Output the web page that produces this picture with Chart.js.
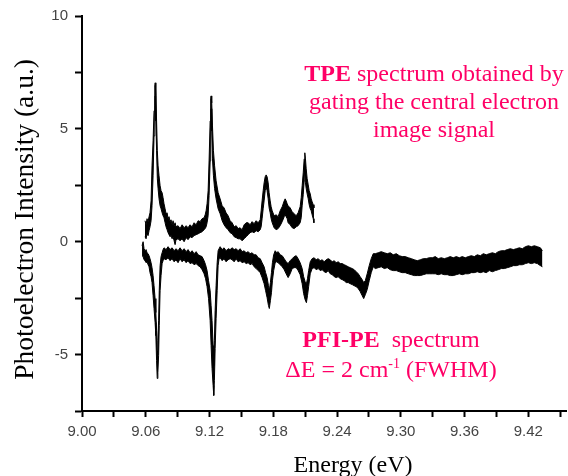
<!DOCTYPE html>
<html>
<head>
<meta charset="utf-8">
<script src="https://cdn.jsdelivr.net/npm/chart.js@4.4.0/dist/chart.umd.min.js"></script>
<style>
  html, body { margin: 0; padding: 0; background: #fff; }
  #wrap { position: relative; width: 568px; height: 476px; overflow: hidden; }
  canvas { position: absolute; left: 0; top: 0; }
  .note { position: absolute; font-family: "Liberation Serif", "Times New Roman", serif; font-size: 24px; color: #ff0066; text-align: center; white-space: nowrap; }
  .note sup { font-size: 14px; vertical-align: 9px; line-height: 0; }
</style>
</head>
<body>
<div id="wrap">
  <canvas id="c" width="568" height="476"></canvas>
  <div class="note" style="left:264px; top:59px; width:340px; line-height:28px;"><b>TPE</b> spectrum obtained by<br>gating the central electron<br>image signal</div>
  <div class="note" style="left:241px; top:324px; width:300px; line-height:30px;"><b>PFI-PE</b>&nbsp; spectrum<br>ΔE = 2 cm<sup>-1</sup> (FWHM)</div>
</div>
<script>
// ---- Data ----
const xTickLabels = ['9.00','9.06','9.12','9.18','9.24','9.30','9.36','9.42'];
const yTickLabels = ['-5','0','5','10'];
const xTitle = 'Energy (eV)';
const yTitle = 'Photoelectron Intensity (a.u.)';

// TPE spectrum: energy (eV) and upper / lower edges of the noisy trace
const tpeEnergy = [
9.0593,9.0603,9.0612,9.0622,9.0631,9.0640,9.0650,9.0659,9.0669,9.0678,
9.0685,9.0689,9.0695,9.0702,9.0709,9.0716,9.0725,9.0735,9.0744,9.0754,
9.0763,9.0772,9.0782,9.0791,9.0801,9.0810,9.0819,9.0829,9.0838,9.0848,
9.0857,9.0867,9.0876,9.0885,9.0904,9.0923,9.0942,9.0961,9.0980,9.0998,
9.1017,9.1036,9.1055,9.1074,9.1093,9.1111,9.1130,9.1149,9.1159,9.1168,
9.1177,9.1187,9.1196,9.1206,9.1211,9.1215,9.1221,9.1228,9.1237,9.1248,
9.1262,9.1281,9.1300,9.1319,9.1337,9.1356,9.1375,9.1394,9.1413,9.1432,
9.1451,9.1469,9.1488,9.1507,9.1526,9.1545,9.1564,9.1582,9.1601,9.1620,
9.1639,9.1658,9.1677,9.1686,9.1695,9.1705,9.1714,9.1724,9.1733,9.1742,
9.1752,9.1761,9.1771,9.1780,9.1790,9.1808,9.1827,9.1846,9.1865,9.1884,
9.1903,9.1912,9.1921,9.1931,9.1940,9.1959,9.1978,9.1997,9.2016,9.2034,
9.2053,9.2063,9.2072,9.2082,9.2091,9.2097,9.2103,9.2110,9.2119,9.2129,
9.2138,9.2148,9.2157,9.2166,9.2176,9.2183];
const tpeUpper = [
0.93,0.75,1.02,0.89,1.11,1.28,1.81,3.36,4.47,5.80,
6.90,7.04,6.46,5.35,4.03,3.36,2.92,2.48,2.26,2.17,
1.95,1.68,1.46,1.24,1.28,1.02,1.11,0.89,0.97,0.75,
0.93,0.71,0.84,0.66,0.71,0.58,0.75,0.62,0.71,0.62,
0.75,0.66,0.84,0.75,0.93,0.89,1.02,1.06,1.19,1.37,
1.68,2.26,3.58,5.35,6.33,6.46,6.15,5.13,4.03,3.36,
2.70,2.17,1.90,1.59,1.50,1.28,1.15,0.93,0.84,0.66,
0.71,0.58,0.62,0.53,0.75,0.84,0.84,0.75,0.89,0.80,
0.93,0.84,0.97,1.37,1.81,2.26,2.61,2.88,2.96,2.88,
2.61,2.17,1.81,1.55,1.37,1.15,1.19,1.11,1.37,1.55,
1.81,1.90,1.81,1.68,1.59,1.50,1.33,1.24,1.15,1.28,
1.55,1.95,2.48,3.05,3.67,3.94,3.67,3.23,2.79,2.52,
2.26,2.12,1.90,1.77,1.64,1.50];
const tpeLower = [
0.22,0.13,0.35,0.27,0.49,0.66,0.93,1.59,2.92,4.69,
6.02,6.46,5.35,4.03,2.79,2.35,1.90,1.59,1.46,1.28,
1.15,1.06,0.84,0.66,0.53,0.40,0.31,0.22,0.27,0.13,
0.22,0.04,-0.13,0.09,0.13,0.04,0.13,0.00,0.18,0.09,
0.22,0.18,0.27,0.31,0.35,0.40,0.44,0.53,0.58,0.66,
0.84,1.15,2.04,3.58,5.35,5.89,4.91,3.67,2.92,2.35,
1.90,1.46,1.24,0.93,0.75,0.62,0.53,0.40,0.35,0.22,
0.18,0.13,0.13,0.04,0.13,0.22,0.31,0.40,0.44,0.40,
0.49,0.44,0.53,0.66,1.02,1.46,1.81,2.26,2.43,2.26,
1.90,1.50,1.28,1.02,0.84,0.62,0.53,0.58,0.71,0.89,
1.11,1.19,1.11,1.02,0.84,0.75,0.62,0.58,0.66,0.71,
0.84,1.06,1.59,2.08,2.70,3.05,2.61,2.35,2.12,1.90,
1.64,1.46,1.37,1.19,1.02,0.84];

// PFI-PE spectrum: energy (eV) and upper / lower edges of the noisy trace
const pfiEnergy = [
9.0565,9.0575,9.0584,9.0593,9.0603,9.0612,9.0622,9.0631,9.0640,9.0650,
9.0659,9.0669,9.0678,9.0688,9.0695,9.0702,9.0708,9.0714,9.0721,9.0727,
9.0735,9.0744,9.0754,9.0763,9.0772,9.0791,9.0810,9.0829,9.0848,9.0867,
9.0885,9.0904,9.0923,9.0942,9.0961,9.0980,9.0998,9.1017,9.1036,9.1055,
9.1074,9.1093,9.1111,9.1130,9.1149,9.1163,9.1177,9.1191,9.1206,9.1215,
9.1224,9.1234,9.1240,9.1246,9.1253,9.1262,9.1272,9.1281,9.1290,9.1300,
9.1319,9.1337,9.1356,9.1375,9.1394,9.1413,9.1432,9.1451,9.1469,9.1488,
9.1507,9.1526,9.1545,9.1564,9.1582,9.1601,9.1620,9.1639,9.1658,9.1677,
9.1695,9.1714,9.1728,9.1742,9.1755,9.1763,9.1773,9.1783,9.1792,9.1804,
9.1818,9.1832,9.1846,9.1865,9.1884,9.1903,9.1921,9.1940,9.1959,9.1978,
9.1997,9.2016,9.2034,9.2053,9.2072,9.2086,9.2100,9.2112,9.2122,9.2133,
9.2148,9.2166,9.2185,9.2204,9.2223,9.2242,9.2261,9.2279,9.2298,9.2317,
9.2336,9.2355,9.2374,9.2392,9.2411,9.2430,9.2449,9.2468,9.2487,9.2505,
9.2524,9.2543,9.2562,9.2581,9.2600,9.2618,9.2637,9.2651,9.2666,9.2684,
9.2703,9.2722,9.2741,9.2760,9.2788,9.2816,9.2845,9.2873,9.2901,9.2929,
9.2958,9.2986,9.3014,9.3042,9.3071,9.3099,9.3127,9.3155,9.3184,9.3212,
9.3240,9.3268,9.3297,9.3325,9.3353,9.3381,9.3410,9.3438,9.3466,9.3494,
9.3523,9.3551,9.3579,9.3607,9.3636,9.3664,9.3692,9.3720,9.3749,9.3777,
9.3805,9.3833,9.3862,9.3890,9.3918,9.3946,9.3975,9.4003,9.4031,9.4060,
9.4088,9.4116,9.4144,9.4173,9.4201,9.4229,9.4257,9.4286,9.4314,9.4333];
const pfiUpper = [
-0.18,0.00,-0.31,-0.40,-0.35,-0.49,-0.53,-0.62,-0.75,-0.93,
-1.15,-1.50,-1.95,-2.52,-3.14,-3.94,-4.82,-4.38,-3.50,-2.17,
-1.06,-0.66,-0.49,-0.35,-0.27,-0.35,-0.22,-0.35,-0.27,-0.40,
-0.31,-0.40,-0.27,-0.40,-0.31,-0.44,-0.35,-0.49,-0.40,-0.53,
-0.44,-0.58,-0.62,-0.66,-0.84,-1.02,-1.28,-1.73,-2.17,-2.83,
-3.50,-4.60,-5.49,-4.38,-3.05,-1.95,-0.93,-0.40,-0.31,-0.22,
-0.35,-0.27,-0.40,-0.31,-0.35,-0.27,-0.35,-0.31,-0.40,-0.31,
-0.44,-0.40,-0.49,-0.44,-0.53,-0.49,-0.58,-0.58,-0.71,-0.75,
-0.93,-1.11,-1.37,-1.59,-1.95,-2.17,-1.81,-1.37,-0.93,-0.58,
-0.40,-0.49,-0.44,-0.58,-0.62,-0.75,-0.89,-0.97,-0.84,-0.75,
-0.66,-0.62,-0.75,-0.93,-1.19,-1.55,-1.77,-1.86,-1.64,-1.28,
-0.89,-0.75,-0.71,-0.80,-0.75,-0.84,-0.80,-0.89,-0.80,-0.75,
-0.80,-0.89,-0.84,-0.93,-0.89,-0.97,-0.97,-1.02,-1.06,-1.11,
-1.15,-1.19,-1.24,-1.33,-1.42,-1.55,-1.68,-1.81,-1.73,-1.42,
-1.06,-0.75,-0.53,-0.53,-0.49,-0.44,-0.49,-0.53,-0.49,-0.58,
-0.53,-0.62,-0.66,-0.66,-0.71,-0.75,-0.80,-0.84,-0.80,-0.75,
-0.75,-0.71,-0.71,-0.66,-0.75,-0.71,-0.75,-0.71,-0.66,-0.71,
-0.66,-0.71,-0.66,-0.71,-0.66,-0.62,-0.66,-0.58,-0.62,-0.53,
-0.58,-0.53,-0.49,-0.53,-0.44,-0.40,-0.40,-0.35,-0.31,-0.35,
-0.31,-0.27,-0.31,-0.22,-0.18,-0.22,-0.18,-0.22,-0.27,-0.40];
const pfiLower = [
-0.62,-0.66,-0.80,-0.84,-0.93,-0.89,-1.02,-1.11,-1.37,-1.55,
-1.81,-2.39,-2.96,-3.58,-4.16,-5.27,-6.06,-5.80,-5.04,-3.72,
-2.17,-1.50,-0.97,-0.84,-0.75,-0.80,-0.71,-0.84,-0.75,-0.89,
-0.80,-0.93,-0.75,-0.89,-0.80,-0.93,-0.84,-0.97,-0.93,-1.02,
-0.97,-1.06,-1.11,-1.24,-1.42,-1.64,-1.99,-2.52,-3.50,-4.60,
-5.62,-6.37,-6.81,-6.15,-4.73,-3.41,-2.17,-1.06,-0.75,-0.71,
-0.84,-0.75,-0.89,-0.80,-0.75,-0.80,-0.89,-0.75,-0.89,-0.84,
-0.93,-0.89,-0.97,-0.93,-1.02,-0.97,-1.11,-1.19,-1.28,-1.37,
-1.59,-1.86,-2.17,-2.48,-2.83,-2.96,-2.61,-2.26,-1.73,-1.28,
-0.93,-0.89,-0.93,-1.02,-1.11,-1.24,-1.42,-1.59,-1.42,-1.19,
-1.15,-1.15,-1.28,-1.46,-1.86,-2.30,-2.57,-2.70,-2.39,-1.99,
-1.42,-1.19,-1.15,-1.24,-1.19,-1.28,-1.24,-1.33,-1.37,-1.28,
-1.42,-1.46,-1.55,-1.59,-1.55,-1.64,-1.68,-1.73,-1.81,-1.81,
-1.86,-1.90,-1.95,-1.99,-2.08,-2.21,-2.39,-2.52,-2.35,-2.12,
-1.73,-1.37,-1.11,-1.19,-1.15,-1.11,-1.19,-1.15,-1.24,-1.28,
-1.28,-1.33,-1.37,-1.37,-1.42,-1.46,-1.50,-1.50,-1.50,-1.46,
-1.42,-1.42,-1.42,-1.42,-1.46,-1.42,-1.46,-1.46,-1.50,-1.50,
-1.46,-1.42,-1.46,-1.42,-1.42,-1.37,-1.37,-1.33,-1.37,-1.33,
-1.37,-1.28,-1.33,-1.28,-1.24,-1.19,-1.19,-1.15,-1.11,-1.06,
-1.06,-1.02,-1.02,-0.97,-0.93,-0.97,-0.93,-0.97,-1.06,-1.11];

// ---- Build datasets ----
function pts(xs, ys) { return xs.map((x, i) => ({ x: x, y: ys[i] })); }
const traceStyle = { borderColor: '#000', borderWidth: 1, pointRadius: 0, tension: 0, backgroundColor: '#000' };

// axis titles drawn as canvas text, placed like the reference
const axisTitlePlugin = {
  id: 'axisTitles',
  afterDraw(chart) {
    const ctx = chart.ctx, a = chart.chartArea;
    ctx.save();
    ctx.fillStyle = '#000';
    ctx.textAlign = 'center';
    ctx.textBaseline = 'alphabetic';
    ctx.font = '24px "Liberation Serif", "Times New Roman", serif';
    ctx.fillText(xTitle, a.left + (a.right - a.left) * 0.56, a.bottom + 61);
    ctx.translate(33, a.top + (a.bottom - a.top) * 0.515);
    ctx.rotate(-Math.PI / 2);
    ctx.font = '27.5px "Liberation Serif", "Times New Roman", serif';
    ctx.fillText(yTitle, 0, 0);
    ctx.restore();
  }
};

new Chart(document.getElementById('c'), {
  type: 'line',
  data: {
    datasets: [
      Object.assign({ label: 'TPE lower', data: pts(tpeEnergy, tpeLower), fill: false }, traceStyle),
      Object.assign({ label: 'TPE', data: pts(tpeEnergy, tpeUpper), fill: '-1' }, traceStyle),
      Object.assign({ label: 'PFI-PE lower', data: pts(pfiEnergy, pfiLower), fill: false }, traceStyle),
      Object.assign({ label: 'PFI-PE', data: pts(pfiEnergy, pfiUpper), fill: '-1' }, traceStyle)
    ]
  },
  options: {
    responsive: false,
    devicePixelRatio: 1,
    animation: false,
    layout: { padding: { left: 0, right: 2, top: 16, bottom: 0 } },
    plugins: { legend: { display: false }, tooltip: { enabled: false }, title: { display: false } },
    scales: {
      x: {
        type: 'linear',
        min: 9.0,
        max: 9.4555,
        border: { display: true, color: '#000', width: 2 },
        grid: { drawOnChartArea: false, drawTicks: true, tickLength: 6, color: '#000', tickWidth: 2 },
        ticks: {
          stepSize: 0.03,
          includeBounds: false,
          autoSkip: false,
          maxRotation: 0,
          padding: 6,
          color: '#444',
          font: { family: '"Liberation Sans", Arial, sans-serif', size: 15 },
          callback: (v) => xTickLabels.find(l => Math.abs(parseFloat(l) - v) < 1e-6) || ''
        },
        afterFit: (s) => { s.height = 65; }
      },
      y: {
        type: 'linear',
        min: -7.5,
        max: 10,
        border: { display: true, color: '#000', width: 2 },
        grid: { drawOnChartArea: false, drawTicks: true, tickLength: 7, color: '#000', tickWidth: 2 },
        ticks: {
          stepSize: 2.5,
          includeBounds: false,
          autoSkip: false,
          padding: 7,
          color: '#444',
          font: { family: '"Liberation Sans", Arial, sans-serif', size: 15 },
          callback: (v) => yTickLabels.find(l => Math.abs(parseFloat(l) - v) < 1e-6) || ''
        },
        afterFit: (s) => { s.width = 82; }
      }
    }
  },
  plugins: [axisTitlePlugin]
});
</script>
</body>
</html>
